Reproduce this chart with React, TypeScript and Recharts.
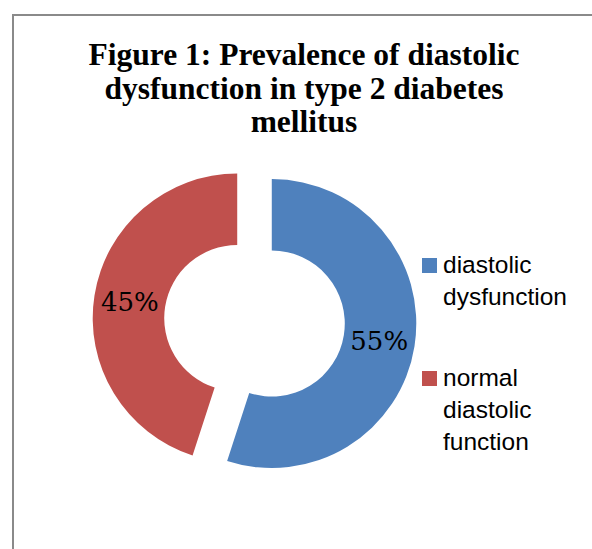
import { PieChart, Pie, Cell, Legend, Sector, LabelList } from 'recharts'

const TITLE_LINES = [
  'Figure 1: Prevalence of diastolic',
  'dysfunction in type 2 diabetes',
  'mellitus',
]
const CATEGORIES = ['diastolic dysfunction', 'normal diastolic function']
const VALUES = [55, 45]
const COLORS = ['#4F81BD', '#C0504D']

const RADIAN = Math.PI / 180
const EXPLODE = 17.5
const SERIF = '"Liberation Serif", "Times New Roman", serif'
const TOTAL = VALUES.reduce((a, b) => a + b, 0)

const data = CATEGORIES.map((name, i) => ({ name, value: VALUES[i] }))

// pulls each slice out along its mid angle, like an exploded Excel doughnut
function ExplodedSector(props: any) {
  const { cx, cy, midAngle, innerRadius, outerRadius, startAngle, endAngle, fill } = props
  const dx = EXPLODE * Math.cos(-midAngle * RADIAN)
  const dy = EXPLODE * Math.sin(-midAngle * RADIAN)
  return (
    <Sector
      cx={cx + dx}
      cy={cy + dy}
      innerRadius={innerRadius}
      outerRadius={outerRadius}
      startAngle={startAngle}
      endAngle={endAngle}
      fill={fill}
      stroke="none"
    />
  )
}

// regular Liberation Serif is missing in the sandbox, DejaVu Serif is the upright serif that works
function PercentLabel(props: any) {
  const { viewBox, value } = props
  if (!viewBox) return null
  const { cx, cy, innerRadius, outerRadius, startAngle, endAngle } = viewBox
  const mid = (startAngle + endAngle) / 2
  const r = (innerRadius + outerRadius) / 2 + EXPLODE
  const x = cx + r * Math.cos(-mid * RADIAN)
  const y = cy + r * Math.sin(-mid * RADIAN)
  return (
    <text
      x={x}
      y={y + 9.5}
      textAnchor="middle"
      fill="#000"
      style={{ fontFamily: 'DejaVu Serif', fontSize: 26, fontWeight: 400 }}
    >
      {`${Math.round((Number(value) / TOTAL) * 100)}%`}
    </text>
  )
}

function LegendContent({ payload }: any) {
  return (
    <div style={{ fontFamily: '"Liberation Sans", Arial, sans-serif', fontSize: 24.5, color: '#000' }}>
      {(payload ?? []).map((entry: any, i: number) => (
        <div key={entry.value} style={{ display: 'flex', marginTop: i === 0 ? 0 : 49 }}>
          <div
            style={{
              width: 15,
              height: 15,
              background: entry.color,
              marginTop: 9,
              marginRight: 6,
              flexShrink: 0,
            }}
          />
          <div style={{ lineHeight: '32px' }}>
            {String(entry.value)
              .split(' ')
              .map((word) => (
                <div key={word}>{word}</div>
              ))}
          </div>
        </div>
      ))}
    </div>
  )
}

export default function App() {
  return (
    <div
      style={{
        position: 'absolute',
        left: 0,
        top: 0,
        width: 592,
        height: 549,
        overflow: 'hidden',
        background: '#fff',
      }}
    >
      <div
        style={{
          position: 'absolute',
          left: 12,
          top: 14,
          width: 620,
          height: 580,
          border: '2px solid #8a8a8a',
        }}
      />
      <div
        style={{
          position: 'absolute',
          left: 0,
          top: 38,
          width: 608,
          textAlign: 'center',
          fontFamily: SERIF,
          fontWeight: 'bold',
          fontSize: 31.5,
          lineHeight: '33.5px',
          color: '#000',
        }}
      >
        {TITLE_LINES.map((line) => (
          <div key={line}>{line}</div>
        ))}
      </div>
      <div style={{ position: 'absolute', left: 0, top: 0 }}>
        <PieChart width={592} height={549} margin={{ top: 0, right: 0, bottom: 0, left: 0 }}>
          <Pie
            data={data}
            dataKey="value"
            nameKey="name"
            cx={254.5}
            cy={320.8}
            innerRadius={73}
            outerRadius={144.5}
            startAngle={90}
            endAngle={-270}
            stroke="none"
            shape={ExplodedSector}
            activeShape={ExplodedSector}
            inactiveShape={ExplodedSector}
            label={false}
            labelLine={false}
            isAnimationActive={false}
          >
            {data.map((entry, i) => (
              <Cell key={entry.name} fill={COLORS[i]} />
            ))}
            <LabelList dataKey="value" content={<PercentLabel />} />
          </Pie>
          <Legend
            layout="vertical"
            align="right"
            verticalAlign="middle"
            content={<LegendContent />}
            wrapperStyle={{ left: 422, top: 249, right: 'auto', bottom: 'auto', width: 170 }}
          />
        </PieChart>
      </div>
    </div>
  )
}
